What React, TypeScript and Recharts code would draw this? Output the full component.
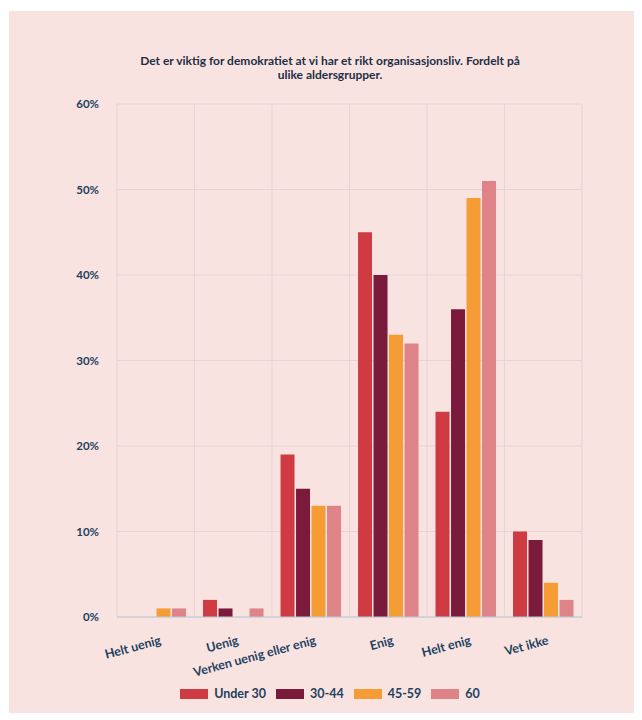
import React from "react";
import { BarChart, Bar, XAxis, YAxis, CartesianGrid } from "recharts";

const categories = ["Helt uenig", "Uenig", "Verken uenig eller enig", "Enig", "Helt enig", "Vet ikke"];
const under30 = [0, 2, 19, 45, 24, 10];
const age3044 = [0, 1, 15, 40, 36, 9];
const age4559 = [1, 0, 13, 33, 49, 4];
const age60 = [1, 1, 13, 32, 51, 2];
const yTicks = [0, 10, 20, 30, 40, 50, 60];

const seriesNames = ["Under 30", "30-44", "45-59", "60"];
const seriesColors = ["#CF3B43", "#7A1B3B", "#F69C34", "#DE8489"];

const data = categories.map((c, i) => ({
  cat: c,
  s0: under30[i],
  s1: age3044[i],
  s2: age4559[i],
  s3: age60[i],
}));

const FONT = "Lato, 'Open Sans', sans-serif";
const TEXT = "#22415F";

function XTick(props: any) {
  const { x, y, payload } = props;
  const ax = x + 6;
  const ay = y + 19;
  return (
    <text
      x={ax}
      y={ay}
      transform={`rotate(-15, ${ax}, ${ay})`}
      textAnchor="end"
      fontSize={12.5}
      fontWeight={700}
      fill={TEXT}
      fontFamily={FONT}
    >
      {payload.value}
    </text>
  );
}

export default function App() {
  return (
    <div
      style={{
        position: "relative",
        marginLeft: 1,
        marginTop: 3,
        width: 633,
        height: 702,
        background: "#F9E3E1",
        fontFamily: FONT,
      }}
    >
      <div
        style={{
          position: "absolute",
          left: 0,
          width: 642,
          top: 43,
          textAlign: "center",
          fontSize: 12,
          fontWeight: 700,
          lineHeight: "14px",
          color: "#1E2F45",
        }}
      >
        Det er viktig for demokratiet at vi har et rikt organisasjonsliv. Fordelt på
        <br />
        ulike aldersgrupper.
      </div>
      <div style={{ position: "absolute", left: 0, top: 0 }}>
        <BarChart
          width={633}
          height={670}
          data={data}
          margin={{ top: 93, right: 60, left: 0, bottom: 4 }}
          barCategoryGap="11%"
          barGap={1.5}
        >
          <CartesianGrid
            stroke="#E6D3D5"
            verticalCoordinatesGenerator={({ offset }: any) =>
              categories.map((_, i) => offset.left + (i * offset.width) / categories.length).concat(offset.left + offset.width)
            }
          />
          <XAxis
            dataKey="cat"
            interval={0}
            height={60}
            tick={<XTick />}
            tickLine={false}
            axisLine={{ stroke: "#B9CAD8" }}
          />
          <YAxis
            width={108}
            domain={[0, 60]}
            ticks={yTicks}
            tickFormatter={(v) => `${v}%`}
            tick={{ fontSize: 11.5, fontWeight: 700, fill: TEXT, fontFamily: FONT }}
            tickLine={false}
            axisLine={false}
            tickMargin={12}
          />
          {seriesNames.map((n, i) => (
            <Bar key={n} dataKey={`s${i}`} name={n} fill={seriesColors[i]} isAnimationActive={false} />
          ))}
        </BarChart>
      </div>
      <div
        style={{
          position: "absolute",
          top: 675,
          left: 0,
          width: 642,
          display: "flex",
          justifyContent: "center",
          gap: 10,
          fontSize: 12.5,
          fontWeight: 700,
          color: TEXT,
        }}
      >
        {seriesNames.map((n, i) => (
          <div key={n} style={{ display: "flex", alignItems: "center" }}>
            <span style={{ display: "inline-block", width: 28, height: 10, background: seriesColors[i], marginRight: 6 }} />
            {n}
          </div>
        ))}
      </div>
    </div>
  );
}
